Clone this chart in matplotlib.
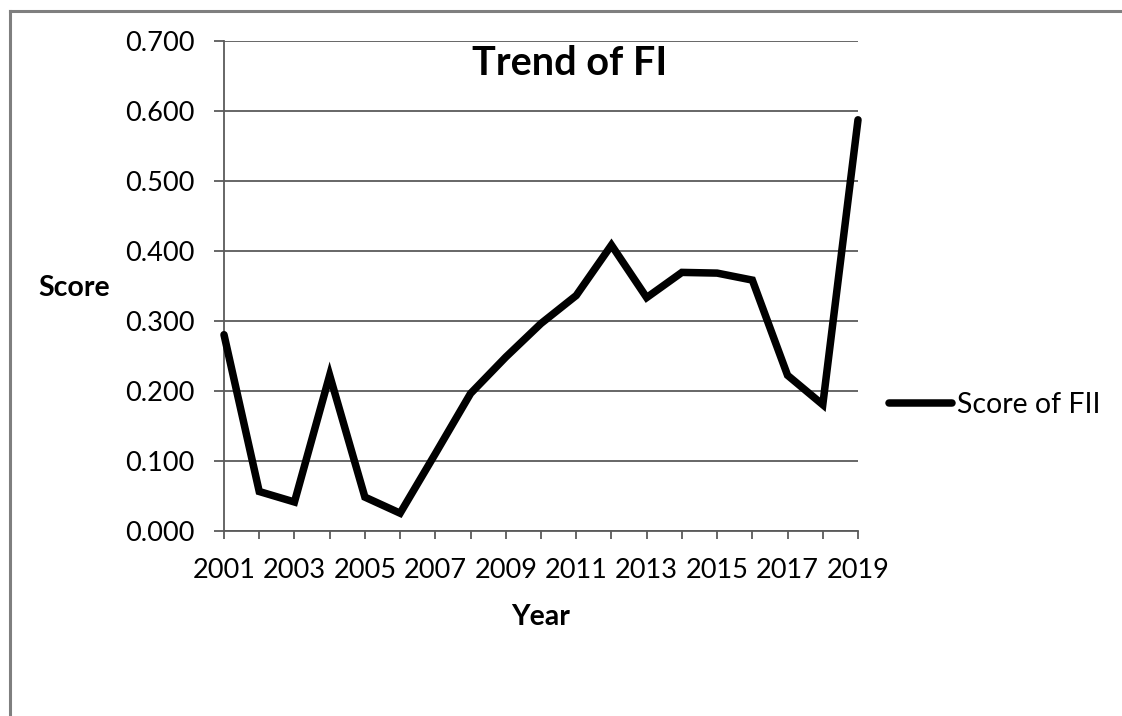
import matplotlib
matplotlib.use("Agg")
import matplotlib.pyplot as plt
from matplotlib.lines import Line2D
from matplotlib.ticker import FormatStrFormatter

# FI score per year
years = list(range(2001, 2020))
scores = [0.280, 0.056, 0.041, 0.222, 0.048, 0.025, 0.110, 0.196, 0.248, 0.296,
          0.336, 0.408, 0.333, 0.369, 0.368, 0.358, 0.222, 0.180, 0.587]
y_ticks = [0.0, 0.1, 0.2, 0.3, 0.4, 0.5, 0.6, 0.7]
x_labels = [str(y) if (y - 2001) % 2 == 0 else "" for y in years]

plt.rcParams["font.family"] = ["Lato", "DejaVu Sans"]

W, H = 1122, 716
fig = plt.figure(figsize=(W / 100, H / 100), dpi=100)
fig.patch.set_facecolor("white")

# plot area in pixel terms
left, right, top, bottom = 224, 858, 40.7, 530.7
ax = fig.add_axes([left / W, 1 - bottom / H, (right - left) / W, (bottom - top) / H])

GRID = "#5a5a5a"
ax.plot(years, scores, color="black", linewidth=5.4, solid_joinstyle="miter",
        solid_capstyle="round", clip_on=False, label="Score of FII", zorder=3)

ax.set_xlim(2001, 2019)
ax.set_ylim(0, 0.7)
ax.set_yticks(y_ticks)
ax.yaxis.set_major_formatter(FormatStrFormatter("%.3f"))
ax.set_xticks(years)
ax.set_xticklabels(x_labels)

ax.yaxis.grid(True, color=GRID, linewidth=1.3)
ax.set_axisbelow(True)
for side in ("top", "right"):
    ax.spines[side].set_visible(False)
for side in ("left", "bottom"):
    ax.spines[side].set_color(GRID)
    ax.spines[side].set_linewidth(1.3)

ax.tick_params(axis="y", direction="out", length=7.5, width=1.3, color=GRID,
               labelsize=19.5, pad=14)
ax.tick_params(axis="x", direction="out", length=6, width=1.3, color=GRID,
               labelsize=19.5, pad=14)

# titles
fig.text(569.5 / W, 1 - 75 / H, "Trend of FI", fontsize=28.5, fontweight="bold",
         ha="center", va="baseline")
fig.text(38 / W, 1 - 296 / H, "Score", fontsize=20.5, fontweight="bold",
         ha="left", va="baseline")
fig.text(541 / W, 1 - 617 / H, "Year", fontsize=20.5, fontweight="bold",
         ha="center", va="center")

# legend to the right of the plot
fig.legend(loc="center left", bbox_to_anchor=(889 / W, 1 - 405 / H),
           frameon=False, fontsize=20.5, handlelength=2.2, handletextpad=0.2,
           borderpad=0, borderaxespad=0)

# chart frame (only top and left edges fall inside the image)
frame = dict(color="#7f7f7f", linewidth=2.2, transform=fig.transFigure)
fig.add_artist(Line2D([10 / W, 1.01], [1 - 11 / H, 1 - 11 / H], **frame))
fig.add_artist(Line2D([10 / W, 10 / W], [1 - 11 / H, -0.01], **frame))

fig.savefig("out.png", dpi=100, facecolor="white")
